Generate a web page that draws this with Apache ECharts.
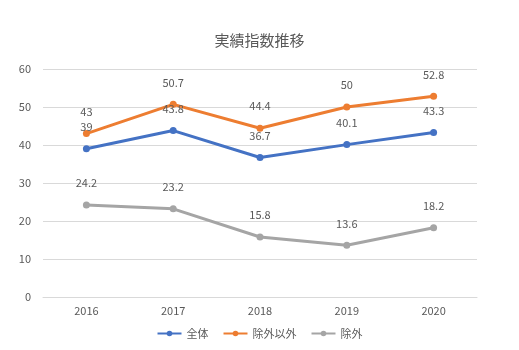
<!DOCTYPE html>
<html>
<head>
<meta charset="utf-8">
<script src="https://cdn.jsdelivr.net/npm/echarts@6/dist/echarts.min.js"></script>
<style>
html, body { margin: 0; padding: 0; background: #fff; }
#chart { width: 519px; height: 350px; }
</style>
</head>
<body>
<div id="chart"></div>
<script>
var years = ['2016', '2017', '2018', '2019', '2020'];
var zentai = [39, 43.8, 36.7, 40.1, 43.3];
var jogaiIgai = [43, 50.7, 44.4, 50, 52.8];
var jogai = [24.2, 23.2, 15.8, 13.6, 18.2];

var chart = echarts.init(document.getElementById('chart'));
var font = '"Noto Sans CJK JP", "Noto Sans", sans-serif';

function makeSeries(name, data, color) {
    return {
        name: name,
        type: 'line',
        data: data,
        symbol: 'circle',
        symbolSize: 7,
        lineStyle: { width: 3, color: color },
        itemStyle: { color: color },
        label: {
            show: true,
            position: 'top',
            distance: 13,
            color: '#595959',
            fontSize: 11,
            fontFamily: font
        }
    };
}

var option = {
    animation: false,
    title: {
        text: '実績指数推移',
        left: 'center',
        top: 28,
        textStyle: { color: '#595959', fontSize: 15, fontWeight: 'normal', fontFamily: font }
    },
    legend: {
        bottom: 6,
        left: 'center',
        itemWidth: 24,
        itemHeight: 7,
        itemGap: 14,
        textStyle: { color: '#595959', fontSize: 11, fontFamily: font },
        data: ['全体', '除外以外', '除外']
    },
    grid: { left: 43, right: 42, top: 69, bottom: 53 },
    xAxis: {
        type: 'category',
        data: years,
        boundaryGap: true,
        axisLine: { lineStyle: { color: '#d9d9d9' } },
        axisTick: { show: false },
        axisLabel: { color: '#595959', fontSize: 11, fontFamily: font, margin: 8 }
    },
    yAxis: {
        type: 'value',
        min: 0,
        max: 60,
        interval: 10,
        splitLine: { lineStyle: { color: '#d9d9d9' } },
        axisLabel: { color: '#595959', fontSize: 11, fontFamily: font, margin: 12 }
    },
    series: [
        makeSeries('全体', zentai, '#4472C4'),
        makeSeries('除外以外', jogaiIgai, '#ED7D31'),
        makeSeries('除外', jogai, '#A5A5A5')
    ]
};
chart.setOption(option);
</script>
</body>
</html>
